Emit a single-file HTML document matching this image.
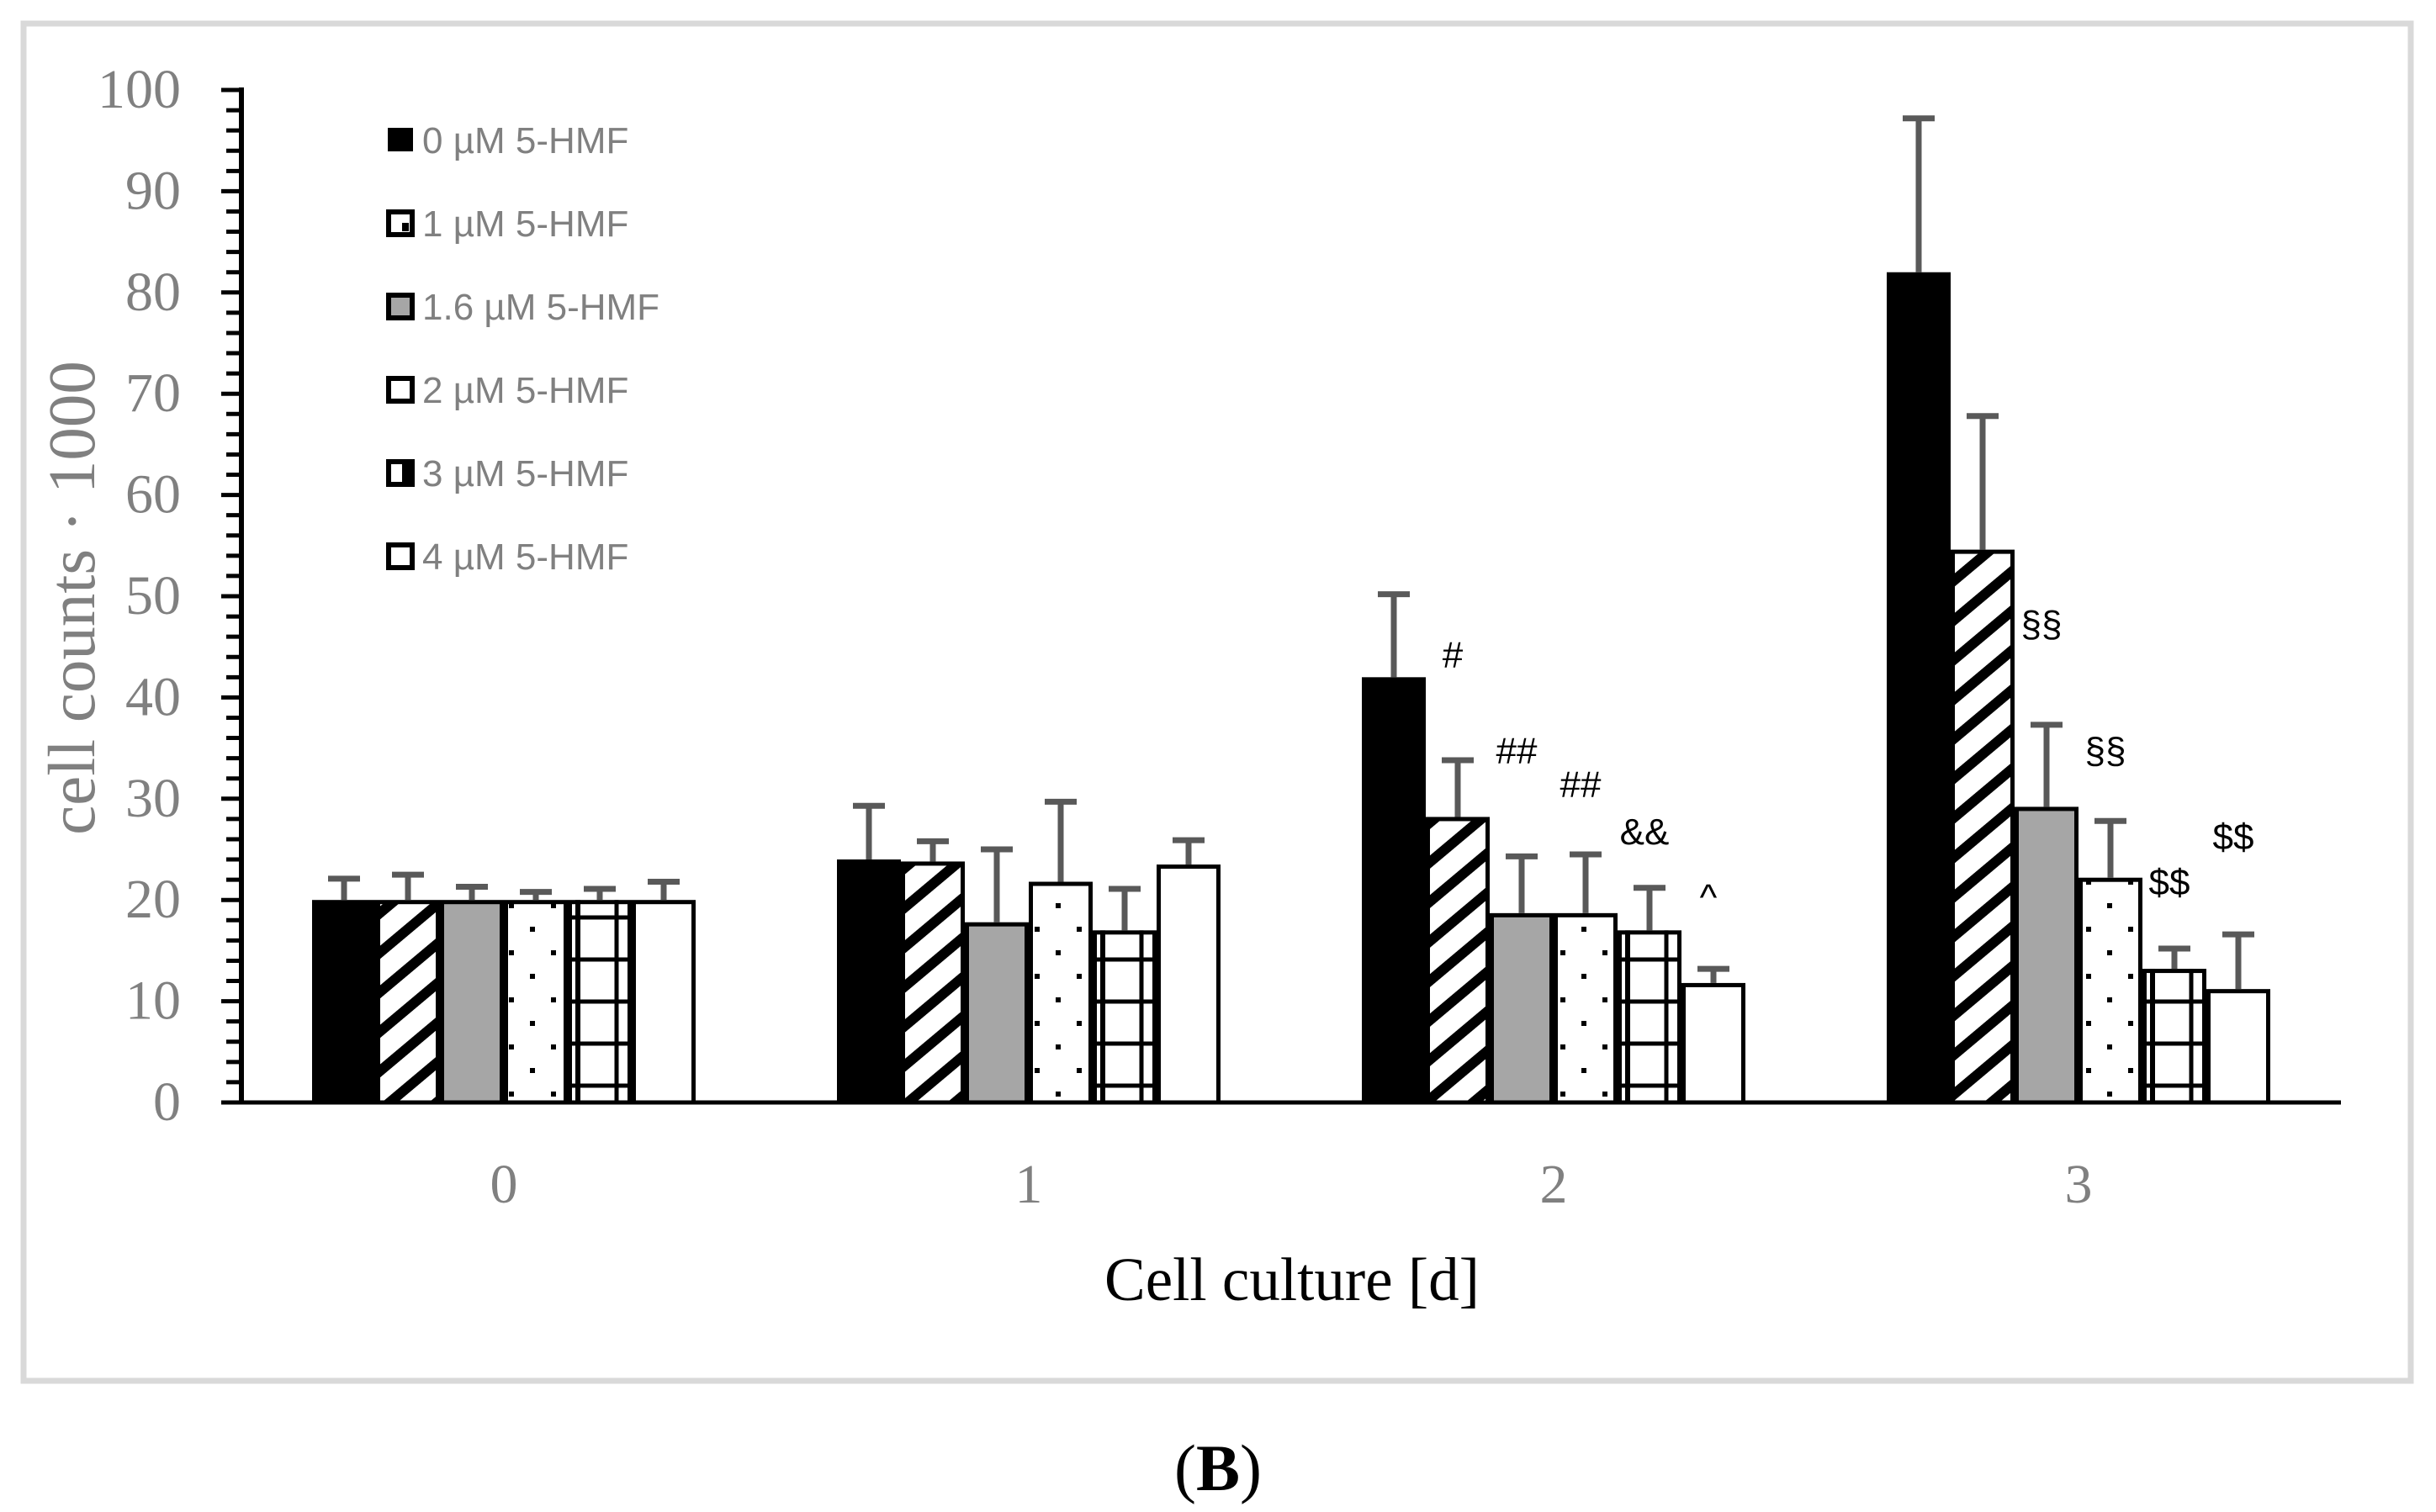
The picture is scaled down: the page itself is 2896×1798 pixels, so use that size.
<!DOCTYPE html>
<html><head><meta charset="utf-8"><style>
html,body{margin:0;padding:0;background:#fff;}
svg{display:block;}
</style></head><body>
<svg id="chart" width="2896" height="1798" viewBox="0 0 2896 1798" xmlns="http://www.w3.org/2000/svg">
<defs>
<pattern id="hatch" patternUnits="userSpaceOnUse" width="36" height="36" patternTransform="rotate(-40)">
<rect width="36" height="36" fill="#fff"/><rect x="0" y="0" width="36" height="12" fill="#000"/>
</pattern>
<pattern id="dots" patternUnits="userSpaceOnUse" width="50" height="56">
<rect width="50" height="56" fill="#fff"/>
<rect x="5" y="10" width="6" height="6" fill="#000"/><rect x="30" y="38" width="6" height="6" fill="#000"/>
</pattern>
</defs>
<rect x="28" y="28" width="2838" height="1614" fill="none" stroke="#d9d9d9" stroke-width="7"/>
<g id="plot"></g>
<text transform="translate(112,711) rotate(-90)" text-anchor="middle" font-family="Liberation Serif, serif" font-size="79" fill="#808080">cell counts · 1000</text>
<text x="1536" y="1546" text-anchor="middle" font-family="Liberation Serif, serif" font-size="73" fill="#000">Cell culture [d]</text>
<text x="1448" y="1772" text-anchor="middle" font-family="Liberation Serif, serif" font-size="78" fill="#000">(<tspan font-weight="bold">B</tspan>)</text>
</svg>
<script>
const categories = ["0","1","2","3"];
const seriesNames = ["0 µM 5-HMF","1 µM 5-HMF","1.6 µM 5-HMF","2 µM 5-HMF","3 µM 5-HMF","4 µM 5-HMF"];
const s0 = [20, 24, 42, 82];
const s1 = [20, 23.8, 28.2, 54.6];
const s2 = [20, 17.8, 18.7, 29.2];
const s3 = [20, 21.8, 18.7, 22.2];
const s4 = [20, 17, 17, 13.2];
const s5 = [20, 23.5, 11.8, 11.2];
const e0 = [2.1, 5.3, 8.2, 15.2];
const e1 = [2.5, 2.0, 5.6, 13.2];
const e2 = [1.3, 7.2, 5.6, 8.1];
const e3 = [0.8, 7.9, 5.8, 5.6];
const e4 = [1.1, 4.1, 4.2, 2.0];
const e5 = [1.8, 2.4, 1.4, 5.4];
const yTicks = [0,10,20,30,40,50,60,70,80,90,100];
const annoText = ["#","##","##","&&","^","§§","§§","$$","$$"];
const annoCat = [2,2,2,2,2,3,3,3,3];
const annoSeries = [0,1,2,3,4,1,2,3,4];
const annoValue = [43,33.5,30.2,25.5,19,46,33.5,20.5,25];

const values=[s0,s1,s2,s3,s4,s5], errs=[e0,e1,e2,e3,e4,e5];
const NS="http://www.w3.org/2000/svg";
const g=document.getElementById('plot');
const X0=287, X1=2783, Y0=1311, Y100=107;
const y=v=>Y0-(Y0-Y100)*v/100;
const band=(X1-X0)/categories.length, bw=76;
const xBar=(c,s)=>X0+band*(c+0.5)-bw*3+bw*s;
const fills=["#000","url(#hatch)","#a6a6a6","url(#dots)","#fff","#fff"];
function mk(tag,attrs,parent){const e=document.createElementNS(NS,tag);for(const k in attrs)e.setAttribute(k,attrs[k]);(parent||g).appendChild(e);return e;}

for(let s=0;s<6;s++){for(let c=0;c<categories.length;c++){
  const x=xBar(c,s), top=y(values[s][c]);
  const r=mk('rect',{x:x+(s?2.5:0),y:top+(s?2.5:0),width:bw-(s?5:0),height:Y0-top-(s?2.5:0),fill:fills[s],stroke:s?'#000':'none','stroke-width':5});
  
  
  if(s===4){
    const gg=mk('g',{});
    
    
    mk('line',{x1:x+12,x2:x+12,y1:top,y2:Y0,stroke:'#000','stroke-width':6},gg);
    mk('line',{x1:x+58,x2:x+58,y1:top,y2:Y0,stroke:'#000','stroke-width':5},gg);
    for(let yy=Y0-20;yy>top+8;yy-=50) mk('line',{x1:x,x2:x+bw,y1:yy,y2:yy,stroke:'#000','stroke-width':5},gg);
  }
}}
for(let s=0;s<6;s++){for(let c=0;c<categories.length;c++){
  const cx=xBar(c,s)+bw/2, top=y(values[s][c]), et=y(values[s][c]+errs[s][c]);
  const eg=mk('g',{stroke:'#595959','stroke-width':7});
  
  
  mk('line',{x1:cx,x2:cx,y1:top,y2:et},eg);
  mk('line',{x1:cx-19,x2:cx+19,y1:et,y2:et},eg);
}}
const ax=mk('g',{});


mk('line',{x1:X0,x2:X0,y1:Y100-3,y2:Y0,stroke:'#000','stroke-width':6},ax);
for(let v=0;v<=100;v+=2){
  const major=v%10===0;
  mk('line',{x1:major?263:269,x2:X0,y1:y(v),y2:y(v),stroke:'#000','stroke-width':5},ax);
}
yTicks.forEach(v=>{
  const t=mk('text',{x:215,y:y(v)+21,'text-anchor':'end','font-family':'Liberation Serif, serif','font-size':66,fill:'#808080'});
  t.textContent=v;
  
  
});
const xa=mk('line',{x1:263,x2:X1,y1:Y0,y2:Y0,stroke:'#000','stroke-width':5});


categories.forEach((c,i)=>{
  const t=mk('text',{x:X0+band*(i+0.5),y:1430,'text-anchor':'middle','font-family':'Liberation Serif, serif','font-size':66,fill:'#808080'});
  t.textContent=c;
  
  
});
annoText.forEach((a,i)=>{
  const t=mk('text',{x:xBar(annoCat[i],annoSeries[i])+bw+32,y:y(annoValue[i]),'text-anchor':'middle','font-family':'Liberation Sans, sans-serif','font-size':44,fill:'#000'});
  t.textContent=a;
  
  
});
const lg=mk('g',{});


const lfill=["#000","#fff","#a6a6a6","#fff","#fff","#fff"];
seriesNames.forEach((n,i)=>{
  const cy=166+i*99;
  const e=mk('g',{},lg);
  
  
  if(i===0) mk('rect',{x:461,y:cy-14,width:30,height:28,fill:'#000'},e);
  else {
    mk('rect',{x:462,y:cy-13,width:28,height:27,fill:lfill[i],stroke:'#000','stroke-width':6},e);
    if(i===1) mk('rect',{x:478,y:cy,width:8,height:10,fill:'#000'},e);
    if(i===4) mk('rect',{x:478,y:cy-12,width:10,height:26,fill:'#000'},e);
  }
  const t=mk('text',{x:502,y:cy+16,'font-family':'Liberation Sans, sans-serif','font-size':44,fill:'#808080'},e);
  t.textContent=n;
});
</script>
</body></html>
